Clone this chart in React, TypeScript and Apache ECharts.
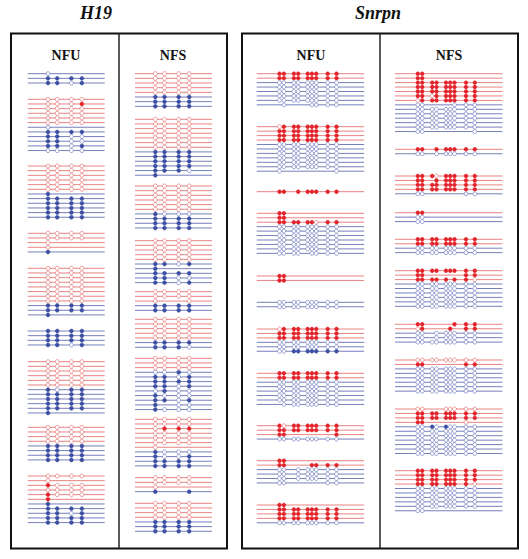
import React, { useEffect, useRef } from "react";
import * as echarts from "echarts";

// ---- Data: each read is "M"/"P" (maternal red / paternal blue) + CpG states: 1 methylated, 0 unmethylated, - not covered
const h19NfuGroups: string[][] = [
  ["P0---", "P1111", "P1101"],
  ["M0000", "M0001", "M0000", "M0000", "M0000", "M0000", "P0---", "P1111", "P1100", "P1100", "P1101", "P0000"],
  ["M0000", "M0000", "M0000", "M0000", "M0000", "M0000", "P1---", "P1111", "P1111", "P1111", "P1111", "P1111"],
  ["M0000", "M0000", "M0---", "M0---", "P1---"],
  ["M0000", "M0000", "M0000", "M0000", "M0000", "M0000", "M0000", "M0000", "P1111", "P1111", "P1---"],
  ["P1111", "P1111", "P1111", "P1101"],
  ["M0000", "M0000", "M0000", "M0000", "M0000", "M0000", "P1011", "P1111", "P1111", "P1111", "P1111", "P1---"],
  ["M0000", "M0000", "M0000", "M0000", "P1111", "P1111", "P1111", "P1111"],
  ["M0000", "M0---", "M1000", "M0000", "M1000", "M1---", "P1---", "P1111", "P1101", "P1111", "P1111"],
];

const h19NfsGroups: string[][] = [
  ["M0000", "M0000", "M0000", "M0000", "M0000", "P1111", "P1111", "P1111"],
  ["M0000", "M0000", "M0000", "M0000", "M0000", "M0000", "M0000", "P1111", "P1111", "P1111", "P1111", "P1110", "P1---"],
  ["M0000", "M0000", "M0000", "M0000", "M0000", "M0000", "P1000", "P1111", "P1111", "P1111"],
  ["M0000", "M0000", "M0000", "M0000", "M0000", "P1101", "P1---", "P1111", "P1100", "P1101"],
  ["M0000", "M0000", "M0--0", "P1111", "P1111"],
  ["M0000", "M0000", "M0000", "M0000", "M0000", "P1111", "P1110"],
  ["M0000", "M0000", "M0000", "P0010", "P1101", "P1111", "P1101", "P0100", "P1000", "P1101", "P1-00", "P1000"],
  ["M0000", "M0000", "M0111", "M0000", "M0000", "M0000", "M0---", "P1000", "P1001", "P1111", "P1111"],
  ["M0000", "M0000", "M0---", "P1--1"],
  ["M0000", "M0000", "M0000", "M0000", "P1111", "P1111", "P1111"],
];

const snrpnNfuGroups: string[][] = [
  ["M111111111", "M111111111", "P000000000", "P000000000", "P000000000", "P000000000", "P000000000", "P-0---0000"],
  ["M011111111", "M111111111", "M111111111", "M111111111", "P000000000", "P000000000", "P000000000", "P000000000", "P000000000", "P000000000", "P0-------0"],
  ["M11-111111"],
  ["M11-------", "M11-------", "M111111011", "P000000000", "P000000000", "P000000000", "P000000000", "P000000000", "P000000000", "P0000-0000"],
  ["M11-------", "M11-------"],
  ["P000000000", "P000000000"],
  ["M011111111", "M111111111", "M111111111", "P000000000", "P000000000", "P001111111"],
  ["M111111111", "M111111111", "P000000000", "P000000000", "P000000000", "P000000000", "P000000000", "P-00000000"],
  ["M101111111", "M111111111", "M11------1", "P000000000"],
  ["M11-------", "M11---1111", "P00-000000", "P00-000000", "P00-000000", "P00-----00"],
  ["M11-------", "M111111111", "M111111111", "M111111111", "P000000000"],
];

const snrpnNfsGroups: string[][] = [
  ["M11-------", "M11-------", "M111111111", "M111111111", "M111111111", "M110111111", "M011111111", "P00----000", "P000000000", "P000000000", "P000000000", "P000000000", "P000000000", "P00------0"],
  ["M11-111111", "P00-000000"],
  ["M111011111", "M11-111111", "M111111111", "M111111111", "P00-----00"],
  ["M11-------", "P00-------", "P00-------"],
  ["M111111111", "M111111111", "P000000000", "P000000000"],
  ["M111111111", "M11-----11", "M11111-110", "P000000000", "P000000000", "P000000000", "P000000000", "P000000000", "P000000000"],
  ["M11----111", "M01---1-11", "P00-000000", "P00-000000", "P000000000"],
  ["M000000000", "M11-----11", "P000000000", "P000000000", "P000000000", "P000000000", "P000000000", "P000000000"],
  ["M00--00000", "M111111111", "M111111111", "M11-----0-", "P001010000", "P000000000", "P000000000", "P000000000", "P000000000", "P000000000", "P000000000"],
  ["M111111111", "M111111111", "M111111111", "M111111110", "P000000000", "P000000000", "P000000000", "P000000000", "P000000000", "P00-------"],
];

const geneTitles = ["H19", "Snrpn"];
const panelTitles = ["NFU", "NFS", "NFU", "NFS"];

// ---- Layout (positions only)
const h19SiteOffsets = [20.3, 29.5, 43.7, 54.2];
const snrpnSiteOffsets = [22.8, 27.2, 37.2, 41.5, 51, 55.2, 59.5, 71, 79.8];
const h19NfuTops = [73.7, 99.3, 166, 233.3, 268.3, 331, 361.7, 427.3, 476];
const h19NfsTops = [73.7, 119.3, 186, 240.7, 291.7, 319.3, 358.3, 419.3, 477.7, 503.3];
const snrpnNfuTops = [73.7, 126.7, 191.7, 213.3, 276, 302.3, 329, 373.3, 425.7, 460.7, 505];
const snrpnNfsTops = [73.7, 149.3, 176, 212.7, 239.3, 270.7, 324.3, 360, 409, 470.7];

const panels = [
  { groups: h19NfuGroups, tops: h19NfuTops, lineStart: 27.7, lineLen: 77, sites: h19SiteOffsets, spacing: 4.66, r: 2.0 },
  { groups: h19NfsGroups, tops: h19NfsTops, lineStart: 135, lineLen: 77, sites: h19SiteOffsets, spacing: 4.66, r: 2.0 },
  { groups: snrpnNfuGroups, tops: snrpnNfuTops, lineStart: 256.7, lineLen: 107.5, sites: snrpnSiteOffsets, spacing: 4.45, r: 1.95 },
  { groups: snrpnNfsGroups, tops: snrpnNfsTops, lineStart: 395, lineLen: 107.5, sites: snrpnSiteOffsets, spacing: 4.45, r: 1.95 },
];

const COLORS = {
  mLine: "#e77474",
  pLine: "#6672b3",
  mFill: "#e2232a",
  pFill: "#3c4fa2",
  mOpen: "#e88080",
  pOpen: "#7c89c6",
};

type Row = { pattern: string; parent: string; siteX: number[]; r: number };

export default function App() {
  const ref = useRef<HTMLDivElement>(null);

  useEffect(() => {
    document.body.style.margin = "0";
    if (!ref.current) return;
    const chart = echarts.init(ref.current, undefined, { renderer: "svg" });

    const rows: Row[] = [];
    const data: number[][] = [];
    panels.forEach((p) => {
      const siteX = p.sites.map((o) => p.lineStart + o);
      p.groups.forEach((g, gi) => {
        g.forEach((read, k) => {
          const y = p.tops[gi] + k * p.spacing;
          rows.push({ parent: read[0], pattern: read.slice(1), siteX, r: p.r });
          data.push([p.lineStart, y, p.lineStart + p.lineLen, rows.length - 1]);
        });
      });
    });

    const renderItem = (params: any, api: any) => {
      const row = rows[api.value(3)];
      const y = api.value(1);
      const a = api.coord([api.value(0), y]);
      const b = api.coord([api.value(2), y]);
      const isM = row.parent === "M";
      const children: any[] = [
        {
          type: "line",
          shape: { x1: a[0], y1: a[1], x2: b[0], y2: b[1] },
          style: { stroke: isM ? COLORS.mLine : COLORS.pLine, lineWidth: 0.9 },
        },
      ];
      for (let i = 0; i < row.pattern.length; i++) {
        const ch = row.pattern[i];
        if (ch === "-") continue;
        const c = api.coord([row.siteX[i], y]);
        const filled = ch === "1";
        children.push({
          type: "circle",
          shape: { cx: c[0], cy: c[1], r: row.r },
          style: filled
            ? { fill: isM ? COLORS.mFill : COLORS.pFill, stroke: isM ? COLORS.mFill : COLORS.pFill, lineWidth: 0.4 }
            : { fill: "#ffffff", stroke: isM ? COLORS.mOpen : COLORS.pOpen, lineWidth: 0.8 },
        });
      }
      return { type: "group", children };
    };

    const titleFont = { fontFamily: "Liberation Serif", fontWeight: "bold" as const };

    chart.setOption({
      animation: false,
      backgroundColor: "#ffffff",
      grid: { left: 0, right: 0, top: 0, bottom: 0 },
      xAxis: { type: "value", min: 0, max: 528, show: false },
      yAxis: { type: "value", min: 0, max: 559, inverse: true, show: false },
      series: [
        {
          type: "custom",
          renderItem,
          data,
          encode: { x: [0, 2], y: 1 },
          silent: true,
          clip: false,
        },
      ],
      graphic: [
        { type: "rect", shape: { x: 11, y: 33.5, width: 216, height: 515 }, style: { fill: "none", stroke: "#111", lineWidth: 2 } },
        { type: "line", shape: { x1: 119, y1: 33.5, x2: 119, y2: 548.5 }, style: { stroke: "#222", lineWidth: 1.5 } },
        { type: "rect", shape: { x: 242, y: 33.5, width: 276, height: 515 }, style: { fill: "none", stroke: "#111", lineWidth: 2 } },
        { type: "line", shape: { x1: 380, y1: 33.5, x2: 380, y2: 548.5 }, style: { stroke: "#222", lineWidth: 1.5 } },
        { type: "text", x: 96, y: 13, style: { text: geneTitles[0], ...titleFont, fontStyle: "italic", fontSize: 18, fill: "#111", align: "center", verticalAlign: "middle" } },
        { type: "text", x: 378, y: 13, style: { text: geneTitles[1], ...titleFont, fontStyle: "italic", fontSize: 18, fill: "#111", align: "center", verticalAlign: "middle" } },
        { type: "text", x: 66, y: 55, style: { text: panelTitles[0], ...titleFont, fontSize: 14, fill: "#111", align: "center", verticalAlign: "middle" } },
        { type: "text", x: 173, y: 55, style: { text: panelTitles[1], ...titleFont, fontSize: 14, fill: "#111", align: "center", verticalAlign: "middle" } },
        { type: "text", x: 311, y: 55, style: { text: panelTitles[2], ...titleFont, fontSize: 14, fill: "#111", align: "center", verticalAlign: "middle" } },
        { type: "text", x: 449, y: 55, style: { text: panelTitles[3], ...titleFont, fontSize: 14, fill: "#111", align: "center", verticalAlign: "middle" } },
      ],
    });

    return () => chart.dispose();
  }, []);

  return <div ref={ref} style={{ width: 528, height: 559 }} />;
}
